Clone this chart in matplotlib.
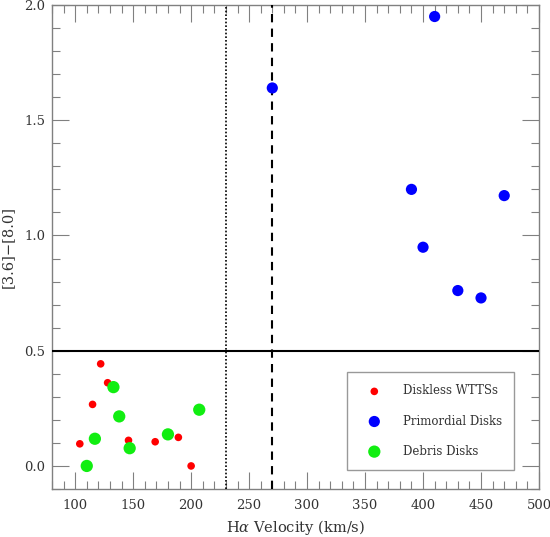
#!/usr/bin/env python3
# -*- coding: utf-8 -*-

import matplotlib
matplotlib.use("Agg")
import matplotlib.pyplot as plt
from matplotlib.ticker import MultipleLocator

plt.rcParams['font.family'] = ['DejaVu Serif']
plt.rcParams['mathtext.fontset'] = 'dejavuserif'

# Diskless WTTSs
wtts_vel = [122, 128, 115, 104, 146, 169, 189, 200]
wtts_col = [0.443, 0.361, 0.267, 0.096, 0.111, 0.105, 0.124, 0.0]

# Primordial disks
prim_vel = [270, 410, 390, 470, 400, 430, 450]
prim_col = [1.64, 1.95, 1.20, 1.173, 0.949, 0.761, 0.729]

# Debris disks
debris_vel = [133, 138, 117, 110, 147, 180, 207]
debris_col = [0.342, 0.215, 0.118, 0.0, 0.077, 0.137, 0.244]

grey = '#808080'
text_col = '#333333'

fig = plt.figure(figsize=(5.5, 5.37), dpi=100)
ax = fig.add_axes([0.0945, 0.0894, 0.8855, 0.9013])

ax.axhline(0.5, color='black', lw=1.5, zorder=3)
ax.axvline(230, color='black', lw=1.2, linestyle=(0, (1, 1.2)), zorder=3)
ax.axvline(270, color='black', lw=1.5, linestyle=(0, (4, 3)), zorder=3)

ax.scatter(wtts_vel, wtts_col, s=30, color='#ff0000', edgecolors='none',
           label='Diskless WTTSs', zorder=4)
ax.scatter(prim_vel, prim_col, s=65, color='#0000ff', edgecolors='none',
           label='Primordial Disks', zorder=4)
ax.scatter(debris_vel, debris_col, s=78, color='#11ee11', edgecolors='none',
           label='Debris Disks', zorder=4)

ax.set_xlim(80, 500)
ax.set_ylim(-0.1, 2.0)
ax.xaxis.set_major_locator(MultipleLocator(50))
ax.xaxis.set_minor_locator(MultipleLocator(10))
ax.yaxis.set_major_locator(MultipleLocator(0.5))
ax.yaxis.set_minor_locator(MultipleLocator(0.1))
ax.yaxis.set_major_formatter(plt.FormatStrFormatter('%.1f'))

ax.tick_params(which='both', direction='in', top=True, right=True,
               color=grey, labelcolor=text_col, labelsize=9.5)
ax.tick_params(which='major', length=12, width=0.8)
ax.tick_params(which='minor', length=6, width=0.8)
ax.tick_params(axis='x', pad=7)
ax.tick_params(axis='y', pad=5)

for sp in ax.spines.values():
    sp.set_color(grey)
    sp.set_linewidth(1.0)

ax.set_xlabel(r'H$\alpha$ Velocity (km/s)', fontsize=10.5, color=text_col)
ax.xaxis.set_label_coords(0.5, -0.059)
ax.set_ylabel('[3.6]\u2212[8.0]', fontsize=10.5, color=text_col)
ax.yaxis.set_label_coords(-0.077, 0.5)

leg = ax.legend(loc='lower right', bbox_to_anchor=(0.949, 0.039),
                borderaxespad=0, frameon=True, fancybox=False,
                edgecolor=grey, fontsize=8.5, labelspacing=1.45,
                handletextpad=1.1, borderpad=1.05, handlelength=2.6,
                scatterpoints=1)
leg.get_frame().set_linewidth(1.0)
for t in leg.get_texts():
    t.set_color(text_col)

fig.savefig('out.png', dpi=100)
